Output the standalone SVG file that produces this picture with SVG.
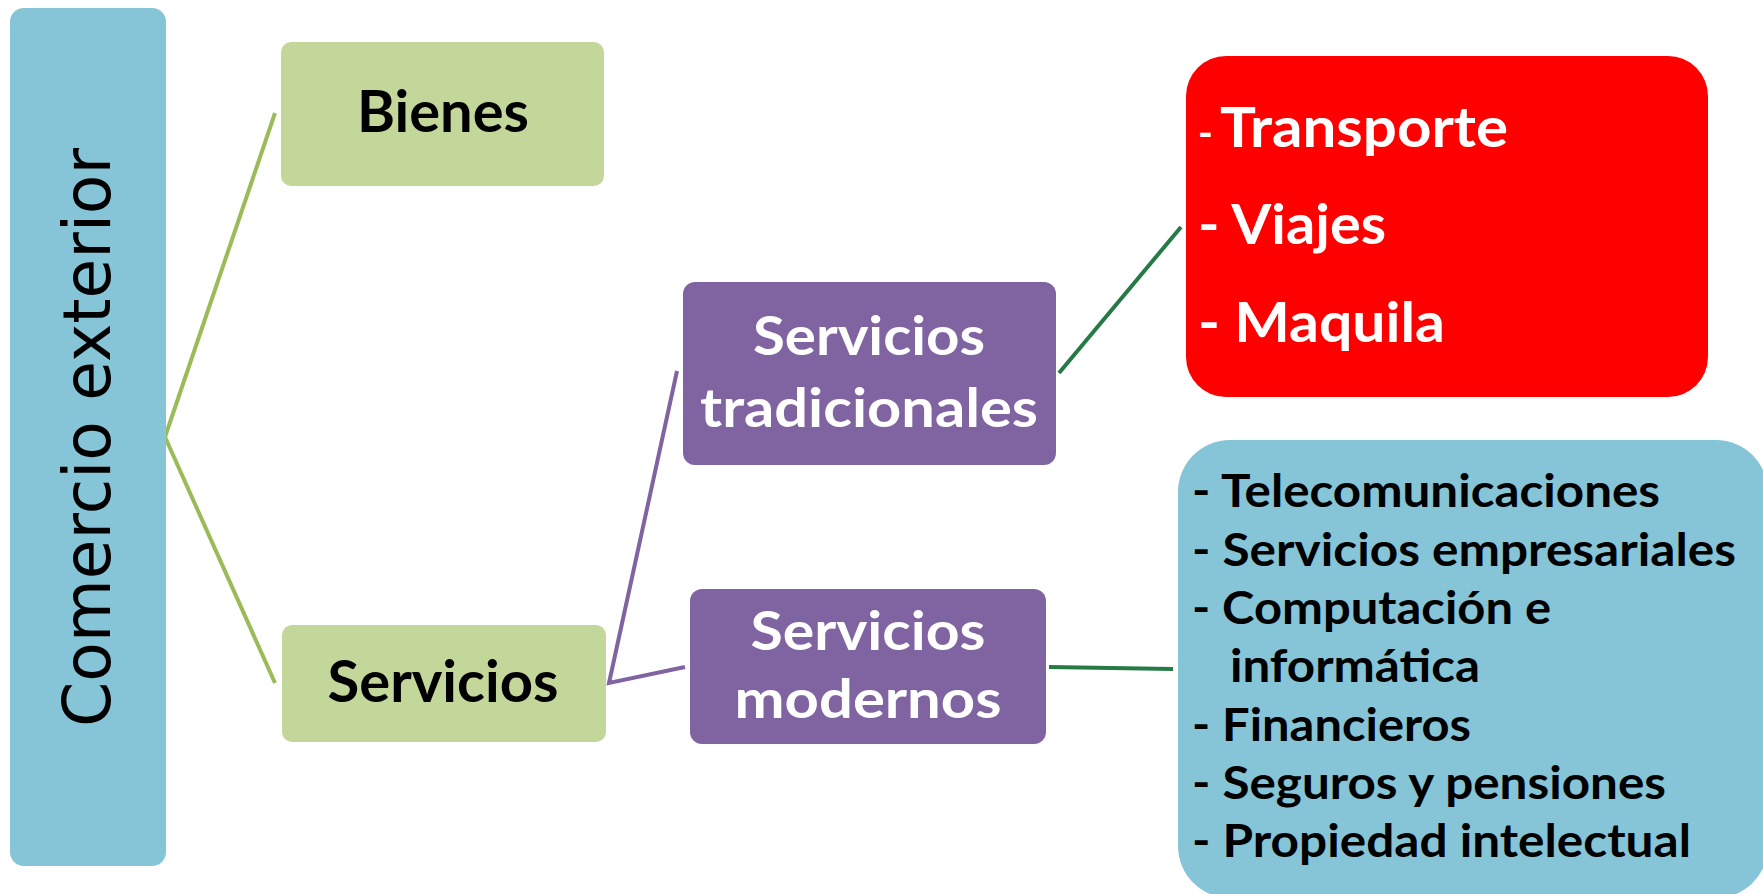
<svg xmlns="http://www.w3.org/2000/svg" width="1763" height="894" viewBox="0 0 1763 894">
<style>
.b{font-family:Lato,"Liberation Sans",sans-serif;font-weight:bold}
.blk{fill:#000}
.wht{fill:#fff}
.c{stroke-width:4;fill:none;stroke-linejoin:miter}
</style>
<rect width="1763" height="894" fill="#fff"/>
<g id="connectors">
<polyline class="c" points="275,113 165,437 275,683" stroke="#9BBB59"/>
<polyline class="c" points="677,371 609,683 685,667" stroke="#8064A2" stroke-width="5"/>
<line class="c" x1="1059" y1="373" x2="1181" y2="227" stroke="#257A45" stroke-width="5"/>
<line class="c" x1="1049" y1="667" x2="1173" y2="669" stroke="#257A45" stroke-width="5"/>
</g>
<g id="comercio">
<rect x="10" y="8" width="156" height="858" rx="14" fill="#86C4D7"/>
<text transform="translate(110,437.5) rotate(-90)" text-anchor="middle" font-family="DejaVu Sans,sans-serif" font-size="65" textLength="579" lengthAdjust="spacingAndGlyphs" fill="#000">Comercio exterior</text>
</g>
<g id="bienes">
<rect x="281" y="42" width="323" height="144" rx="10" fill="#C4D79B"/>
<text class="b blk" x="443" y="132" text-anchor="middle" font-size="57" textLength="172" lengthAdjust="spacingAndGlyphs">Bienes</text>
</g>
<g id="servicios">
<rect x="282" y="625" width="324" height="117" rx="10" fill="#C4D79B"/>
<text class="b blk" x="443" y="702" text-anchor="middle" font-size="57" textLength="231" lengthAdjust="spacingAndGlyphs">Servicios</text>
</g>
<g id="tradicionales">
<rect x="683" y="282" width="373" height="183" rx="12" fill="#8064A2"/>
<text class="b wht" x="869" y="355" text-anchor="middle" font-size="54" textLength="232" lengthAdjust="spacingAndGlyphs">Servicios</text>
<text class="b wht" x="869" y="427" text-anchor="middle" font-size="54" textLength="338" lengthAdjust="spacingAndGlyphs">tradicionales</text>
</g>
<g id="modernos">
<rect x="690" y="589" width="356" height="155" rx="12" fill="#8064A2"/>
<text class="b wht" x="868" y="650" text-anchor="middle" font-size="54" textLength="235" lengthAdjust="spacingAndGlyphs">Servicios</text>
<text class="b wht" x="868" y="718" text-anchor="middle" font-size="54" textLength="267" lengthAdjust="spacingAndGlyphs">modernos</text>
</g>
<g id="tradicionales-lista">
<rect x="1186" y="56" width="522" height="341" rx="40" fill="#FF0000"/>
<text class="b wht" x="1198" y="147" font-size="56"><tspan font-size="40">- </tspan><tspan x="1220" textLength="288" lengthAdjust="spacingAndGlyphs">Transporte</tspan></text>
<text class="b wht" x="1198" y="244" font-size="56" textLength="188" lengthAdjust="spacingAndGlyphs">- Viajes</text>
<text class="b wht" x="1198" y="342" font-size="56" textLength="247" lengthAdjust="spacingAndGlyphs">- Maquila</text>
</g>
<g id="modernos-lista">
<rect x="1178" y="440" width="590" height="458" rx="52" fill="#86C4D7"/>
<text class="b blk" x="1192" y="507" font-size="45" textLength="468" lengthAdjust="spacingAndGlyphs">- Telecomunicaciones</text>
<text class="b blk" x="1192" y="565.5" font-size="45" textLength="544" lengthAdjust="spacingAndGlyphs">- Servicios empresariales</text>
<text class="b blk" x="1192" y="624" font-size="45" textLength="359" lengthAdjust="spacingAndGlyphs">- Computación e</text>
<text class="b blk" x="1230" y="682" font-size="45" textLength="250" lengthAdjust="spacingAndGlyphs">informática</text>
<text class="b blk" x="1192" y="740.5" font-size="45" textLength="279" lengthAdjust="spacingAndGlyphs">- Financieros</text>
<text class="b blk" x="1192" y="799" font-size="45" textLength="474" lengthAdjust="spacingAndGlyphs">- Seguros y pensiones</text>
<text class="b blk" x="1192" y="857" font-size="45" textLength="499" lengthAdjust="spacingAndGlyphs">- Propiedad intelectual</text>
</g>
</svg>
